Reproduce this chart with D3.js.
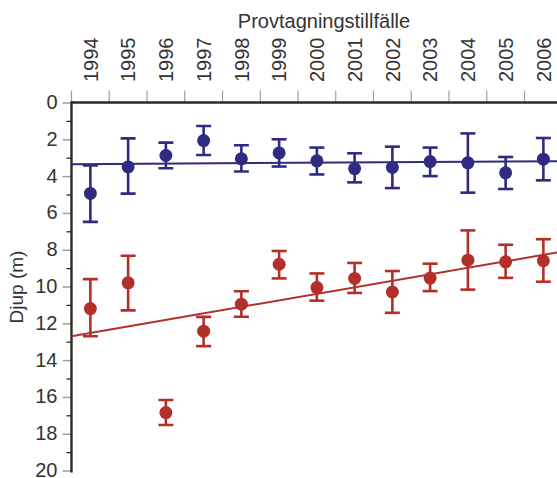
<!DOCTYPE html>
<html>
<head>
<meta charset="utf-8">
<script src="https://cdn.jsdelivr.net/npm/d3@7"></script>
<style>
  html, body { margin: 0; padding: 0; background: #fff; }
  svg { display: block; font-family: "Liberation Sans", Arial, Helvetica, sans-serif; }
</style>
</head>
<body>
<svg id="chart" width="557" height="478"></svg>
<script>
// ---- data ----
const years = [1994, 1995, 1996, 1997, 1998, 1999, 2000, 2001, 2002, 2003, 2004, 2005, 2006];

const blueMean  = [4.94, 3.50, 2.88, 2.07, 3.06, 2.74, 3.17, 3.59, 3.53, 3.21, 3.28, 3.82, 3.08];
const blueLow   = [3.42, 1.95, 2.18, 1.28, 2.32, 2.00, 2.45, 2.76, 2.40, 2.45, 1.68, 2.96, 1.93];
const blueHigh  = [6.49, 4.95, 3.57, 2.85, 3.75, 3.48, 3.91, 4.34, 4.65, 4.00, 4.90, 4.70, 4.23];

const redMean   = [11.2, 9.8, 16.85, 12.43, 10.96, 8.79, 10.06, 9.56, 10.3, 9.54, 8.57, 8.66, 8.6];
const redLow    = [9.6, 8.33, 16.17, 11.65, 10.26, 8.07, 9.29, 8.72, 9.16, 8.76, 6.95, 7.73, 7.43];
const redHigh   = [12.7, 11.3, 17.53, 13.24, 11.64, 9.56, 10.77, 10.35, 11.43, 10.25, 10.17, 9.53, 9.74];

// trend lines: [year, depth] end points
const blueTrend = [[1993.5, 3.35], [2006.5, 3.19]];
const redTrend  = [[1993.5, 12.7], [2006.5, 8.1]];

const yTicksMajor = [0, 2, 4, 6, 8, 10, 12, 14, 16, 18, 20];
const yTicksMinor = [1, 3, 5, 7, 9, 11, 13, 15, 17, 19];

const title = "Provtagningstillfälle";
const yTitle = "Djup (m)";

// ---- layout ----
const svg = d3.select("#chart");
const plotLeft = 71.5, plotTop = 102.5, step = 37.75;
const blue = "#2f2b80", red = "#b3302a", axisCol = "#2b2a22", tickGray = "#a0a0a0", textCol = "#333";

const x = d3.scaleBand().domain(years).range([plotLeft, plotLeft + step * years.length]).padding(0);
const xl = d3.scaleLinear().domain([years[0] - 0.5, years[years.length - 1] + 0.5])
  .range([plotLeft, plotLeft + step * years.length]);
const y = d3.scaleLinear().domain([0, 20]).range([plotTop, plotTop + 368]);

svg.append("defs").append("clipPath").attr("id", "plotclip")
  .append("rect").attr("x", plotLeft).attr("y", 0).attr("width", 557 - plotLeft).attr("height", 478);

// top ticks (band boundaries)
const bounds = years.map(d => x(d)).concat([x(years[years.length - 1]) + x.bandwidth()]);
svg.append("g").selectAll("line").data(bounds).join("line")
  .attr("x1", d => d).attr("x2", d => d)
  .attr("y1", plotTop - 12).attr("y2", plotTop)
  .attr("stroke", tickGray).attr("stroke-width", 1.2);

// year labels
svg.append("g").selectAll("text").data(years).join("text")
  .attr("transform", d => `translate(${x(d) + x.bandwidth() / 2},82) rotate(-90)`)
  .attr("dy", "0.36em")
  .attr("text-anchor", "start")
  .attr("font-size", 20)
  .attr("fill", textCol)
  .text(d => d);

// title
svg.append("text").attr("x", 324).attr("y", 28).attr("text-anchor", "middle")
  .attr("font-size", 20).attr("fill", textCol).text(title);

// left axis major
const gy = svg.append("g").attr("transform", `translate(${plotLeft},0)`)
  .call(d3.axisLeft(y).tickValues(yTicksMajor).tickSize(9).tickPadding(5).tickFormat(d3.format("d")));
gy.select(".domain").remove();
gy.selectAll(".tick line").attr("stroke", tickGray).attr("stroke-width", 1.5);
gy.selectAll(".tick text").attr("font-size", 20).attr("fill", textCol).attr("dy", "0.3em")
  .attr("font-family", "'Liberation Sans', Arial, sans-serif");

// minor ticks
const gm = svg.append("g").attr("transform", `translate(${plotLeft},0)`)
  .call(d3.axisLeft(y).tickValues(yTicksMinor).tickSize(5).tickFormat(""));
gm.select(".domain").remove();
gm.selectAll(".tick line").attr("stroke", axisCol).attr("stroke-width", 1.3);

// y title
svg.append("text")
  .attr("transform", `translate(23,287) rotate(-90)`)
  .attr("text-anchor", "middle")
  .attr("font-size", 19).attr("fill", textCol).text(yTitle);

// axis lines
svg.append("line").attr("x1", plotLeft).attr("x2", 557).attr("y1", plotTop).attr("y2", plotTop)
  .attr("stroke", axisCol).attr("stroke-width", 2.6);
svg.append("line").attr("x1", plotLeft).attr("x2", plotLeft).attr("y1", plotTop - 1.3).attr("y2", y(20) + 2)
  .attr("stroke", axisCol).attr("stroke-width", 2.4);

// series
function drawSeries(mean, low, high, trend, color) {
  const g = svg.append("g").attr("clip-path", "url(#plotclip)");
  const line = d3.line().x(d => xl(d[0])).y(d => y(d[1]));
  g.append("path").attr("d", line(trend)).attr("fill", "none")
    .attr("stroke", color).attr("stroke-width", 2);
  const data = years.map((yr, i) => ({ yr, m: mean[i], lo: low[i], hi: high[i] }));
  const cx = d => x(d.yr) + x.bandwidth() / 2;
  const cap = 7.5;
  const e = g.append("g").selectAll("g").data(data).join("g");
  e.append("line").attr("x1", cx).attr("x2", cx).attr("y1", d => y(d.lo)).attr("y2", d => y(d.hi))
    .attr("stroke", color).attr("stroke-width", 2.6);
  e.append("line").attr("x1", d => cx(d) - cap).attr("x2", d => cx(d) + cap)
    .attr("y1", d => y(d.lo)).attr("y2", d => y(d.lo))
    .attr("stroke", color).attr("stroke-width", 2.6);
  e.append("line").attr("x1", d => cx(d) - cap).attr("x2", d => cx(d) + cap)
    .attr("y1", d => y(d.hi)).attr("y2", d => y(d.hi))
    .attr("stroke", color).attr("stroke-width", 2.6);
  e.append("circle").attr("cx", cx).attr("cy", d => y(d.m)).attr("r", 6.5).attr("fill", color);
}
drawSeries(blueMean, blueLow, blueHigh, blueTrend, blue);
drawSeries(redMean, redLow, redHigh, redTrend, red);
</script>
</body>
</html>
